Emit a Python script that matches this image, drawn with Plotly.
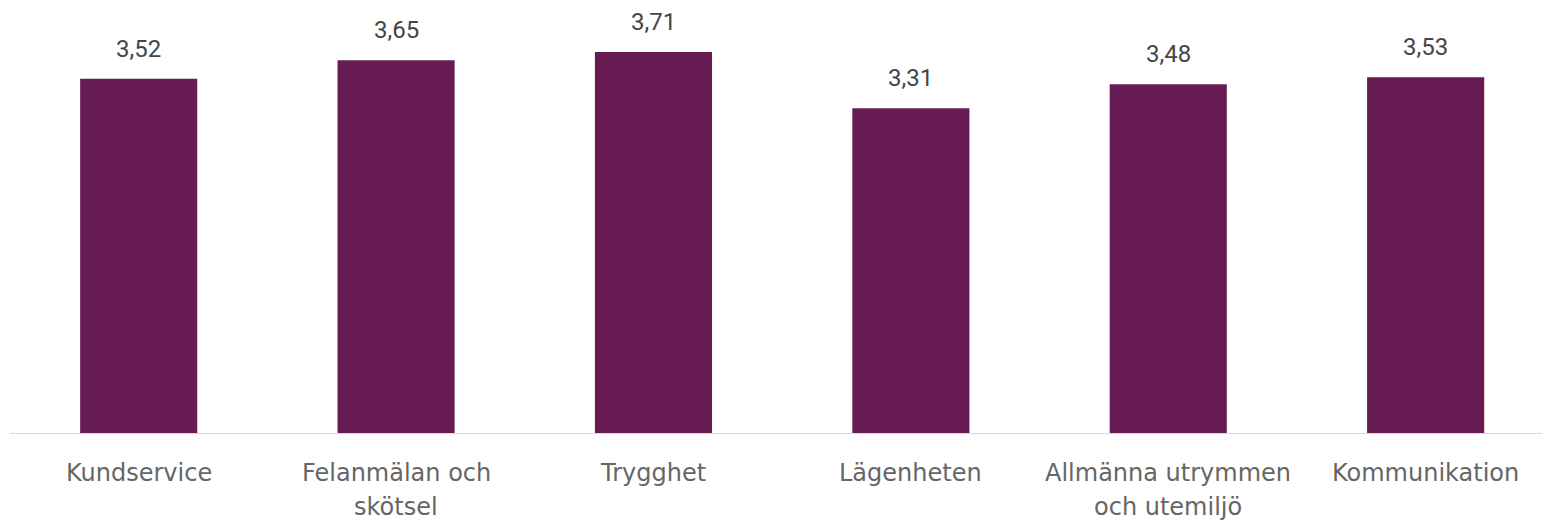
import plotly.graph_objects as go

categories = ["Kundservice", "Felanmälan och\nskötsel", "Trygghet", "Lägenheten",
              "Allmänna utrymmen\noch utemiljö", "Kommunikation"]
values = [3.52, 3.65, 3.71, 3.31, 3.48, 3.53]

BAR_COLOR = "#661C53"
LABEL_COLOR = "#666666"
VALUE_COLOR = "#454545"
LABEL_FONT = "DejaVu Sans"
VALUE_FONT = "Roboto"

x_idx = list(range(len(categories)))

fig = go.Figure()
fig.add_trace(go.Bar(
    x=x_idx, y=values, width=0.455,
    marker=dict(color=BAR_COLOR, line=dict(width=0)),
    hoverinfo="skip",
))

annotations = []
# value labels above each bar
for i, v in zip(x_idx, values):
    annotations.append(dict(
        x=i, y=v, xref="x", yref="y", text=f"{v:.2f}".replace(".", ","),
        showarrow=False, yanchor="bottom", yshift=14,
        font=dict(family=VALUE_FONT, size=24, color=VALUE_COLOR),
    ))
# category labels below the axis, one annotation per line
for i, cat in zip(x_idx, categories):
    for j, line in enumerate(cat.split("\n")):
        annotations.append(dict(
            x=i, y=0, xref="x", yref="paper", text=line,
            showarrow=False, yanchor="middle", yshift=-39 - 34 * j,
            font=dict(family=LABEL_FONT, size=24, color=LABEL_COLOR),
        ))

fig.update_layout(
    width=1542, height=521,
    margin=dict(l=10, r=0, t=11, b=87),
    paper_bgcolor="white", plot_bgcolor="white",
    showlegend=False,
    annotations=annotations,
    xaxis=dict(range=[-0.5, 5.452], showticklabels=False, showgrid=False,
               zeroline=False, showline=False, ticks=""),
    yaxis=dict(range=[1, 4], showticklabels=False, showgrid=False,
               zeroline=False, showline=False, ticks=""),
    shapes=[dict(type="line", xref="paper", yref="y", x0=0, x1=1, y0=1, y1=1,
                 line=dict(color="#D9D9D9", width=2), layer="above")],
)

fig.write_html("out.html")
